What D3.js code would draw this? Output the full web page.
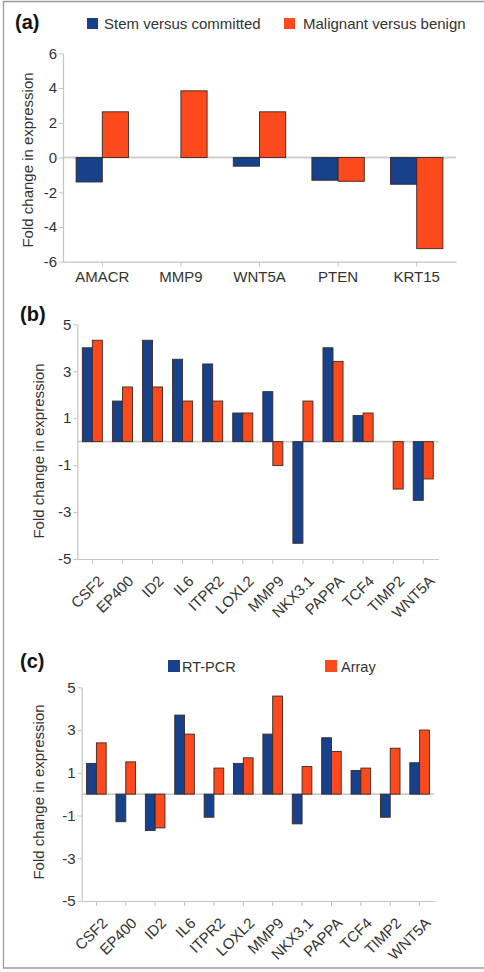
<!DOCTYPE html>
<html>
<head>
<meta charset="utf-8">
<script src="https://cdn.jsdelivr.net/npm/d3@7"></script>
<style>
  body { margin: 0; background: #fff; }
  svg { display: block; font-family: "Liberation Sans", Arial, sans-serif; }
</style>
</head>
<body>
<div id="chart"></div>
<script>
// panel (a)
const genesA = ["AMACR", "MMP9", "WNT5A", "PTEN", "KRT15"];
const stemVsCommitted = [-1.41, 0, -0.5, -1.31, -1.54];
const malignantVsBenign = [2.63, 3.84, 2.63, -1.37, -5.25];
const ticksA = [-6, -4, -2, 0, 2, 4, 6];

// panels (b) and (c)
const genesBC = ["CSF2", "EP400", "ID2", "IL6", "ITPR2", "LOXL2", "MMP9", "NKX3.1", "PAPPA", "TCF4", "TIMP2", "WNT5A"];
const stemB = [4.0, 1.73, 4.32, 3.51, 3.31, 1.22, 2.13, -4.33, 4.0, 1.11, 0, -2.5];
const malignantB = [4.32, 2.33, 2.33, 1.73, 1.73, 1.22, -1.02, 1.73, 3.42, 1.22, -2.02, -1.59];
const rtPcr = [1.44, -1.29, -1.70, 3.70, -1.08, 1.44, 2.81, -1.39, 2.64, 1.11, -1.08, 1.47];
const arrayVals = [2.40, 1.51, -1.58, 2.81, 1.22, 1.70, 4.59, 1.29, 2.0, 1.22, 2.15, 3.0];
const ticksBC = [-5, -3, -1, 1, 3, 5];

const BLUE = "#17418a";
const ORANGE = "#fd4a1c";

const svg = d3.select("#chart").append("svg")
    .attr("width", 484)
    .attr("height", 972);

// outer frame (no right edge)
svg.append("path")
    .attr("d", "M484,1.5H3.5V968H484")
    .attr("fill", "none")
    .attr("stroke", "#9a9a9a")
    .attr("stroke-width", 1.3);

function drawPanel(opts) {
    const g = svg.append("g");

    const x = d3.scaleBand()
        .domain(opts.cats)
        .range([opts.x0, opts.x1])
        .paddingInner(1 / 3)
        .paddingOuter(1 / 6);

    const sub = d3.scaleBand()
        .domain([0, 1])
        .range([0, x.bandwidth()]);

    const y = d3.scaleLinear()
        .domain(opts.domain)
        .range([opts.yBottom, opts.yTop]);

    // zero line
    g.append("line")
        .attr("x1", opts.x0)
        .attr("x2", opts.x1)
        .attr("y1", y(0))
        .attr("y2", y(0))
        .attr("stroke", "#cfcfcf")
        .attr("stroke-width", 1.8);

    const yAxis = g.append("g")
        .attr("transform", `translate(${opts.x0},0)`)
        .call(d3.axisLeft(y).tickValues(opts.ticks).tickSize(4).tickSizeOuter(0).tickPadding(2).tickFormat(d => String(d)));

    const xAxis = g.append("g")
        .attr("transform", `translate(0,${opts.yBottom})`)
        .call(d3.axisBottom(x).tickSize(5).tickSizeOuter(0).tickPadding(5));

    [yAxis, xAxis].forEach(a => {
        a.select(".domain").attr("stroke", "#c4c4c4").attr("stroke-width", 1.2);
        a.selectAll(".tick line").attr("stroke", "#c4c4c4");
        a.selectAll("text")
            .attr("fill", "#333")
            .style("font-size", "15px")
            .style("font-family", "'Liberation Sans', Arial, sans-serif");
    });

    if (opts.rotate) {
        xAxis.selectAll("text")
            .attr("x", 0)
            .attr("y", 0)
            .attr("dy", 0)
            .attr("text-anchor", "end")
            .attr("transform", "translate(12,23) rotate(-45)");
    }

    // bars
    const rows = [];
    opts.cats.forEach((c, i) => {
        opts.series.forEach((s, j) => {
            if (s.values[i] !== 0) rows.push({ cat: c, j: j, v: s.values[i], color: s.color });
        });
    });

    g.append("g").selectAll("rect")
        .data(rows)
        .join("rect")
        .attr("x", d => x(d.cat) + sub(d.j))
        .attr("width", sub.bandwidth())
        .attr("y", d => y(Math.max(0, d.v)))
        .attr("height", d => Math.abs(y(d.v) - y(0)))
        .attr("fill", d => d.color)
        .attr("stroke", "#3b2a22")
        .attr("stroke-width", 0.9);

    // y title
    g.append("text")
        .attr("transform", `translate(${opts.titleX},${opts.titleY}) rotate(-90)`)
        .attr("text-anchor", "middle")
        .attr("fill", "#333")
        .style("font-size", "15px")
        .text("Fold change in expression");

    // panel letter
    g.append("text")
        .attr("x", opts.labelX)
        .attr("y", opts.labelY)
        .attr("fill", "#111")
        .style("font-size", "20px")
        .style("font-weight", "bold")
        .text(opts.label);

    // legend
    if (opts.legend) {
        const lg = g.append("g");
        opts.legend.forEach((l, k) => {
            lg.append("rect")
                .attr("x", l.x)
                .attr("y", opts.legendY)
                .attr("width", opts.legendBox)
                .attr("height", opts.legendBox)
                .attr("fill", opts.series[k].color);
            lg.append("text")
                .attr("x", l.tx)
                .attr("y", opts.legendY + opts.legendBox - 0.5)
                .attr("fill", "#333")
                .style("font-size", opts.legendFont)
                .text(l.name);
        });
    }
}

drawPanel({
    cats: genesA,
    series: [{ values: stemVsCommitted, color: BLUE }, { values: malignantVsBenign, color: ORANGE }],
    domain: [-6, 6], ticks: ticksA,
    x0: 63, x1: 456, yTop: 53.3, yBottom: 261.7,
    rotate: false,
    titleX: 33, titleY: 160,
    label: "(a)", labelX: 15, labelY: 29,
    legend: [{ name: "Stem versus committed", x: 87, tx: 104 }, { name: "Malignant versus benign", x: 284, tx: 303 }],
    legendY: 18, legendBox: 11, legendFont: "15px"
});

drawPanel({
    cats: genesBC,
    series: [{ values: stemB, color: BLUE }, { values: malignantB, color: ORANGE }],
    domain: [-5, 5], ticks: ticksBC,
    x0: 77.3, x1: 438.3, yTop: 324.3, yBottom: 559,
    rotate: true,
    titleX: 44, titleY: 451,
    label: "(b)", labelX: 20, labelY: 321
});

drawPanel({
    cats: genesBC,
    series: [{ values: rtPcr, color: BLUE }, { values: arrayVals, color: ORANGE }],
    domain: [-5, 5], ticks: ticksBC,
    x0: 81.7, x1: 434.3, yTop: 687.3, yBottom: 901,
    rotate: true,
    titleX: 44, titleY: 792,
    label: "(c)", labelX: 20, labelY: 668,
    legend: [{ name: "RT-PCR", x: 168, tx: 182 }, { name: "Array", x: 325, tx: 341 }],
    legendY: 660, legendBox: 12, legendFont: "14.5px"
});
</script>
</body>
</html>
